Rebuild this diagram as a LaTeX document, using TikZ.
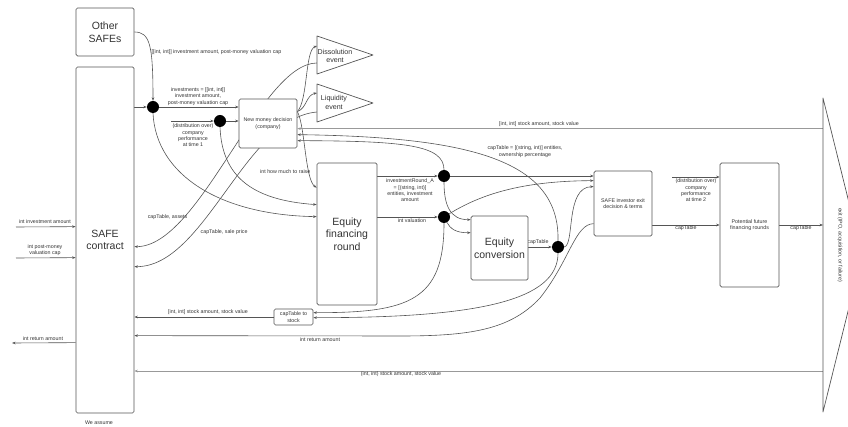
\documentclass[tikz,border=0pt]{standalone}
\usepackage{fontspec}
\setmainfont{Liberation Sans}
\usetikzlibrary{arrows.meta,calc}
\pgfdeclarelayer{bg}
\pgfsetlayers{bg,main}
\definecolor{edge}{HTML}{555555}
\definecolor{txt}{HTML}{333333}
\definecolor{pale}{HTML}{999999}
\newcommand{\smallfont}{\fontsize{5.3}{6.3}\selectfont}
\newcommand{\bigfont}{\fontsize{10.5}{12.6}\selectfont}
\newcommand{\midfont}{\fontsize{7.1}{8.3}\selectfont}
\tikzset{
  box/.style={draw=edge, rounded corners=1.5pt, fill=white, line width=0.7pt,
              inner sep=1pt, align=center, text=txt, font=\smallfont},
  bigbox/.style={box, font=\bigfont},
  lbl/.style={font=\smallfont, text=txt, align=center, inner sep=0.5pt},
  dot/.style={circle, fill=black, minimum size=12pt, inner sep=0pt},
  arr/.style={draw=edge, line width=0.6pt, -{Stealth[length=3.5pt,width=2.6pt]}},
  ln/.style={draw=edge, line width=0.6pt},
  palearr/.style={arr, draw=pale, line width=1pt},
  shapeline/.style={draw=edge, line width=0.7pt, fill=white, line join=round},
}
\begin{document}
\begin{tikzpicture}[x=1pt, y=-1pt]
\useasboundingbox (0,0) rectangle (848,427);

% ---------- boxes ----------
\node[bigbox, minimum width=58pt, minimum height=48pt] (other) at (105,32) {Other\\SAFEs};
\node[bigbox, minimum width=58pt, minimum height=346pt] (safe) at (105,240) {SAFE\\contract};
\node[box, minimum width=58pt, minimum height=49pt] (nmd) at (268,123.5) {New money decision\\(company)};
\node[bigbox, minimum width=60pt, minimum height=142pt] (efr) at (347,234) {Equity\\financing\\round};
\node[bigbox, minimum width=57pt, minimum height=64pt] (ec) at (499.5,248) {Equity\\conversion};
\node[box, minimum width=58pt, minimum height=65pt] (sx) at (623,203.5) {SAFE investor exit\\decision \& terms};
\node[box, minimum width=59pt, minimum height=124pt] (pf) at (749.5,225) {Potential future\\financing rounds};
\node[box, minimum width=39pt, minimum height=16pt, inner sep=0.5pt] (cts) at (293.5,317) {capTable to\\stock};

% ---------- event triangles ----------
\draw[shapeline] (317,36) -- (373,55) -- (317,74) -- cycle;
\node[font=\midfont, text=txt, align=center] (diss) at (335,56) {Dissolution\\event};
\draw[shapeline] (317,84) -- (373,103) -- (317,122) -- cycle;
\node[font=\midfont, text=txt, align=center] (liq) at (334,102.5) {Liquidity\\event};
\coordinate (dsIn) at (317,46);
\coordinate (dsOut) at (317,63);
\coordinate (lqIn) at (317,93);
\coordinate (lqOut) at (317,112);

% ---------- exit triangle ----------
\coordinate (exT) at (823,98);
\coordinate (exB) at (823,412);
\draw[shapeline, fill=none] (exT) -- (862,255) -- (exB) -- cycle;
\node[lbl, rotate=-90] (exit) at (840,245) {exit (IPO, acquisition, or failure)};
\coordinate (exS) at (823,371);

% ---------- junction dots ----------
\node[dot] (d1) at (153,107) {};
\node[dot] (d2) at (220,121) {};
\node[dot] (d3) at (444,176) {};
\node[dot] (d4) at (444,217) {};
\node[dot] (d5) at (558,247) {};

% ---------- free ends ----------
\coordinate (perf1) at (171,121);
\coordinate (perf2) at (672,177);
\coordinate (in1) at (16,227);
\coordinate (in2) at (16,258);
\coordinate (out1) at (12,343);

\begin{pgfonlayer}{bg}
% other SAFEs and SAFE terms gathered into the investments list
\draw[arr] (other.east) .. controls (150,32) and (153,45) .. (d1.north);
\node[lbl, anchor=west] at (151,52) {[[int, int]] investment amount, post-money valuation cap};
\draw[arr] (safe.east |- d1) -- (d1);
\draw[arr] (d1) -- (nmd.west |- d1);
\node[lbl] at (198,96.5) {investments = [[int, int]]\\investment amount,\\post-money valuation cap};
\draw[arr] (perf1) -- (d2);
\draw[arr] (d2) -- (nmd.west |- d2);
\node[lbl] at (193,135.5) {(distribution over)\\company\\performance\\at time 1};

% into the equity financing round
\draw[arr] (d1.south) .. controls (156,175) and (220,215) .. ($(efr.north west)+(0,54)$);
\draw[arr] (d2.south) .. controls (222,175) and (250,200) .. ($(efr.north west)+(0,42)$);
\draw[arr] ($(nmd.north east)+(0,13)$) .. controls (305,125) and (305,180) .. ($(efr.north west)+(0,25)$);
\node[lbl, anchor=east] at (311,172) {int how much to raise};

% company decision to the events
\draw[arr] ($(nmd.north east)+(0,13)$) .. controls (308,100) and (305,50) .. (dsIn);
\draw[arr] ($(nmd.north east)+(0,13)$) .. controls (307,108) and (306,95) .. (lqIn);

% events back to the SAFE contract
\draw[arr] (dsOut) .. controls (260,63) and (200,247) .. ($(safe.north east)+(0,180)$);
\node[lbl, anchor=east] at (188,217) {capTable, assets};
\draw[arr] (lqOut) .. controls (245,118) and (205,267) .. ($(safe.north east)+(0,200)$);
\node[lbl, anchor=west] at (200,232) {capTable, sale price};

% stock returned from the exit to the company
\draw[palearr] (exT |- {$(nmd.north east)+(0,30)$}) -- ($(nmd.north east)+(0,30)$);
\node[lbl] at (539,124) {[int, int] stock amount, stock value};

% cap table fed back to the company
\draw[arr] (d5.north) .. controls (560,160) and (470,137) .. ($(nmd.north east)+(0,36)$);
\node[lbl] at (525,151.5) {capTable = [(string, int)] entities,\\ownership percentage};
\draw[arr] (d3.north) .. controls (444,145) and (405,141) .. ($(nmd.north east)+(0,42)$);

% out of the equity financing round
\draw[arr] (efr.east |- d3) -- (d3);
\node[lbl] at (410,190.5) {investmentRound\_A\\= [(string, int)]\\entities, investment\\amount};
\draw[arr] (efr.east |- d4) -- (d4);
\node[lbl] at (412,220.5) {int valuation};

% to the SAFE investor exit decision
\draw[arr] (d3) -- (sx.west |- d3);
\draw[arr] (d4) .. controls (480,195) and (520,181) .. ($(sx.north west)+(0,10)$);
\draw[arr] (d5.east) .. controls (575,245) and (565,187) .. ($(sx.north west)+(0,16)$);

% into the equity conversion
\draw[arr] (d3.south) .. controls (444,205) and (450,220) .. ($(ec.north west)+(0,4)$);
\draw[arr] (d4) .. controls (450,228) and (455,233) .. ($(ec.north west)+(0,17)$);
\draw[arr] (ec.east |- d5) -- (d5);
\node[lbl] at (538,242) {capTable};

% into the capTable-to-stock step
\draw[arr] (d4.south) .. controls (444,300) and (410,313) .. ($(cts.north east)+(0,4)$);
\draw[arr] (d5.south) .. controls (558,300) and (480,318) .. ($(cts.north east)+(0,9)$);
\draw[arr] (cts.west) -- (safe.east |- cts.west);
\node[lbl] at (208,312.5) {[int, int] stock amount, stock value};

% return amount from the exit decision
\draw[arr] ($(sx.north west)+(0,53)$) .. controls (575,224) and (570,260) .. (540,298)
   .. controls (510,330) and (470,336) .. (400,336) -- ($(safe.north east)+(0,269)$);
\node[lbl] at (320,340) {int return amount};

% later rounds and the exit
\draw[arr] (sx.east |- pf.west) -- (pf.west);
\node[lbl] at (686,228.5) {capTable};
\draw[arr] (perf2) -- (pf.west |- perf2);
\node[lbl] at (696,190.5) {(distribution over)\\company\\performance\\at time 2};
\draw[arr] (pf.east) -- (exT |- pf.east);
\node[lbl] at (801,228.5) {capTable};
\draw[palearr] (exS) -- (safe.east |- exS);
\node[lbl] at (401,374.5) {(int, int) stock amount, stock value};

% SAFE contract inputs and output
\draw[arr] (in1) -- ($(safe.north west)+(0,160)$);
\node[lbl] at (45,222) {int investment amount};
\draw[arr] (in2) -- ($(safe.north west)+(0,191)$);
\node[lbl] at (45,250) {int post-money\\valuation cap};
\draw[arr] ($(safe.north west)+(0,276)$) -- (out1);
\node[lbl] at (43,339) {int return amount};
\end{pgfonlayer}

\node[lbl] at (99,422.5) {We assume};
\end{tikzpicture}
\end{document}
